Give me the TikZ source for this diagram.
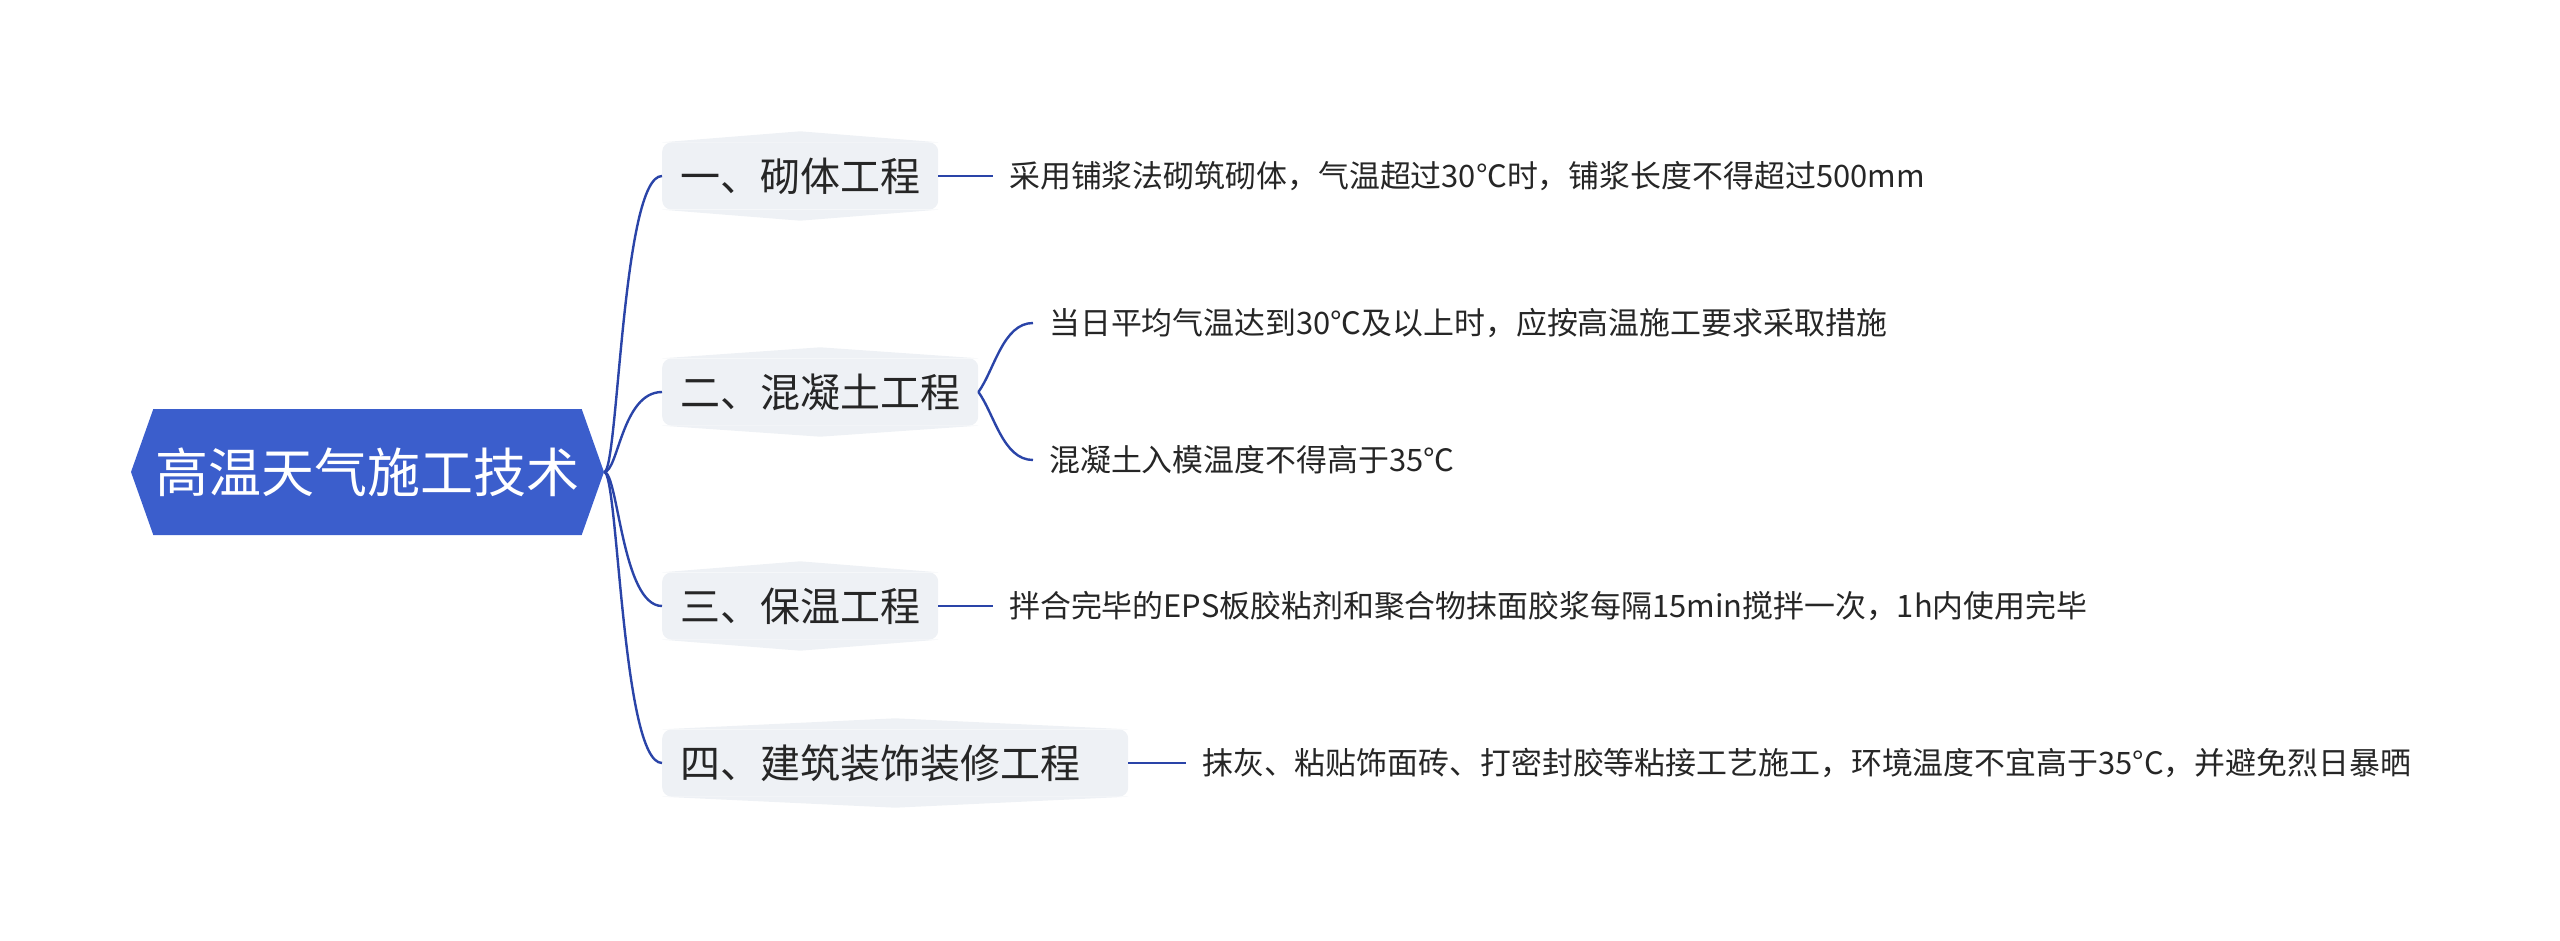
\documentclass[tikz,border=0pt]{standalone}
\usepackage{fontspec}
\setmainfont{Noto Sans CJK SC}
\usetikzlibrary{shapes.symbols,calc}
\definecolor{rootblue}{RGB}{59,94,204}
\definecolor{linkblue}{RGB}{42,68,168}
\definecolor{branchgray}{RGB}{238,241,245}
\definecolor{inkgray}{RGB}{38,38,38}
\tikzset{
  rootnode/.style={signal, signal to=west and east, signal pointer angle=141,
    fill=rootblue, text=white, minimum width=473pt, minimum height=126pt,
    inner sep=0pt, font=\fontsize{53}{60}\selectfont},
  branchnode/.style={fill=branchgray, rounded corners=9pt, text=inkgray,
    minimum height=67pt, inner xsep=18pt, inner ysep=0pt, anchor=west,
    font=\fontsize{40}{48}\selectfont},
  leafnode/.style={text=inkgray, inner xsep=16pt, inner ysep=0pt, anchor=west,
    font=\fontsize{30.9}{36}\selectfont},
  link/.style={draw=linkblue, line width=2.4pt},
}
\begin{document}
\begin{tikzpicture}[x=1pt,y=-1pt]
  \def\peak{11}
  \useasboundingbox (0,0) rectangle (2560,941);
  \node[rootnode] (root) at (367.5,472) {高温天气施工技术};
  \node[branchnode] (b1) at (662,176) {一、砌体工程};
  \node[branchnode] (b2) at (662,392) {二、混凝土工程};
  \node[branchnode] (b3) at (662,606) {三、保温工程};
  \node[branchnode, text width=430pt, align=left] (b4) at (662,763) {四、建筑装饰装修工程};
  % flat tips above and below the branch boxes
  \foreach \b in {b1,b2,b3,b4} {
    \fill[branchgray] (\b.north west) -- ($(\b.north)+(0,-\peak)$) -- (\b.north east) -- cycle;
    \fill[branchgray] (\b.south west) -- ($(\b.south)+(0,\peak)$) -- (\b.south east) -- cycle;
  }
  \foreach \b in {b1,b2,b3,b4}
    \draw[link] (root.east) .. controls +(14,0) and +(-40,0) .. (\b.west);
  \node[leafnode] (l1) at (993,176) {采用铺浆法砌筑砌体，气温超过30℃时，铺浆长度不得超过500mm};
  \node[leafnode] (l2a) at (1033,323) {当日平均气温达到30℃及以上时，应按高温施工要求采取措施};
  \node[leafnode] (l2b) at (1033,460) {混凝土入模温度不得高于35℃};
  \node[leafnode] (l3) at (993,606) {拌合完毕的EPS板胶粘剂和聚合物抹面胶浆每隔15min搅拌一次，1h内使用完毕};
  \node[leafnode] (l4) at (1186,763) {抹灰、粘贴饰面砖、打密封胶等粘接工艺施工，环境温度不宜高于35°C，并避免烈日暴晒};
  \draw[link] (b1.east) -- (l1.west);
  \draw[link] (b2.east) .. controls +(16,-22) and +(-30,0) .. (l2a.west);
  \draw[link] (b2.east) .. controls +(16,22) and +(-30,0) .. (l2b.west);
  \draw[link] (b3.east) -- (l3.west);
  \draw[link] (b4.east) -- (l4.west);
\end{tikzpicture}
\end{document}
